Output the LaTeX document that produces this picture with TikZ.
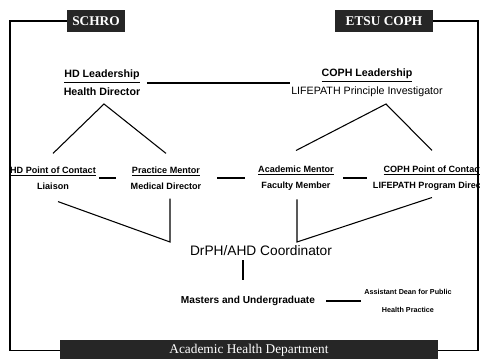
\documentclass[tikz,border=0pt]{standalone}
\usepackage{fontspec}
\setmainfont{Liberation Serif}
\setsansfont{Liberation Sans}
\usetikzlibrary{calc}

\tikzset{
  darkbox/.style={fill=black!85, text=white, inner sep=0pt, font=\rmfamily\bfseries\fontsize{10}{12}\selectfont},
  leadlbl/.style={align=center, inner sep=0.75pt, font=\sffamily\fontsize{8}{13.5}\selectfont},
  rowlbl/.style={align=center, inner sep=0.75pt, font=\sffamily\bfseries\fontsize{6.8}{12}\selectfont},
  conn/.style={line width=0.8pt},
}

\begin{document}
\begin{tikzpicture}[x=0.75pt,y=0.75pt,yscale=-1,xscale=1]
\useasboundingbox (0,0) rectangle (480,359);

%Dark title boxes
\node (schro) [darkbox, minimum width=43.5pt, minimum height=16.5pt] at (96,21) {SCHRO};
\node (etsu) [darkbox, minimum width=73.5pt, minimum height=16.5pt] at (384,21) {ETSU COPH};
\node (ahd) [darkbox, minimum width=283.5pt, minimum height=15.75pt, font=\rmfamily\fontsize{10}{12}\selectfont] at (249,350.5) {Academic Health Department};

%Leadership
\node (hdlead) [leadlbl, font=\sffamily\bfseries\fontsize{8}{13.5}\selectfont] at (102,83) {\underline{HD Leadership}\\Health Director};
\node (cophlead) [leadlbl] at (367,83) {\textbf{\underline{COPH Leadership}}\\LIFEPATH Principle Investigator};

%Mentors and contacts
\node (hdpoc) [rowlbl] at (53,178) {\underline{HD Point of Contact}\\Liaison};
\node (pm) [rowlbl] at (166,178) {\underline{Practice Mentor}\\Medical Director};
\node (am) [rowlbl] at (296,178) {\underline{Academic Mentor}\\Faculty Member};
\node (cpoc) [rowlbl] at (433,178) {\underline{COPH Point of Contact}\\LIFEPATH Program Director};

%Students
\node (coord) [inner sep=0.75pt, font=\sffamily\fontsize{10.3}{12}\selectfont] at (261,251) {DrPH/AHD Coordinator};
\node (masters) [inner sep=0.75pt, font=\sffamily\bfseries\fontsize{7.6}{10}\selectfont] at (248,301) {Masters and Undergraduate};
\node (adean) [align=center, inner sep=0.75pt, font=\sffamily\bfseries\fontsize{5.4}{13.5}\selectfont] at (408,301) {Assistant Dean for Public\\Health Practice};

\coordinate (lrail) at (10,200);
\coordinate (rrail) at (478,200);
\coordinate (hdtop) at (104,104);
\coordinate (cophtop) at (386,104);
\coordinate (lcorner) at (170,242);
\coordinate (rcorner) at (297,242);

%Outer links
\draw[conn] (schro.west) -| (lrail) |- (ahd.west);
\draw[conn] (etsu.east) -| (rrail) |- (ahd.east);

%Leadership links
\draw[conn, shorten <=4pt] (hdlead.east) -- (cophlead.west);
\draw[conn] ($(hdpoc.north)+(0,-12)$) -- (hdtop) -- ($(pm.north)+(0,-12)$);
\draw[conn] ($(am.north)+(0,-14)$) -- (cophtop) -- ($(cpoc.north)+(-1,-14)$);

%Row links
\draw[conn, shorten <=1.5pt, shorten >=10pt] (hdpoc.east) -- (pm.west);
\draw[conn, shorten <=11pt, shorten >=9pt] (pm.east) -- (am.west);
\draw[conn, shorten <=6pt, shorten >=3.75pt] (am.east) -- (cpoc.west);

%Links to coordinator
\draw[conn] ($(hdpoc.south)+(5,11)$) -- (lcorner) -- ($(lcorner |- pm.south)+(0,8)$);
\draw[conn] ($(cpoc.south)+(-1,6)$) -- (rcorner) -- ($(rcorner |- am.south)+(0,8)$);
\draw[conn, shorten <=2.25pt, shorten >=11pt] ($(coord.south)+(-18,0)$) -- ($(masters.north)+(-5,0)$);
\draw[conn, shorten <=7.5pt, shorten >=1.5pt] (masters.east) -- (adean.west);
\end{tikzpicture}
\end{document}
